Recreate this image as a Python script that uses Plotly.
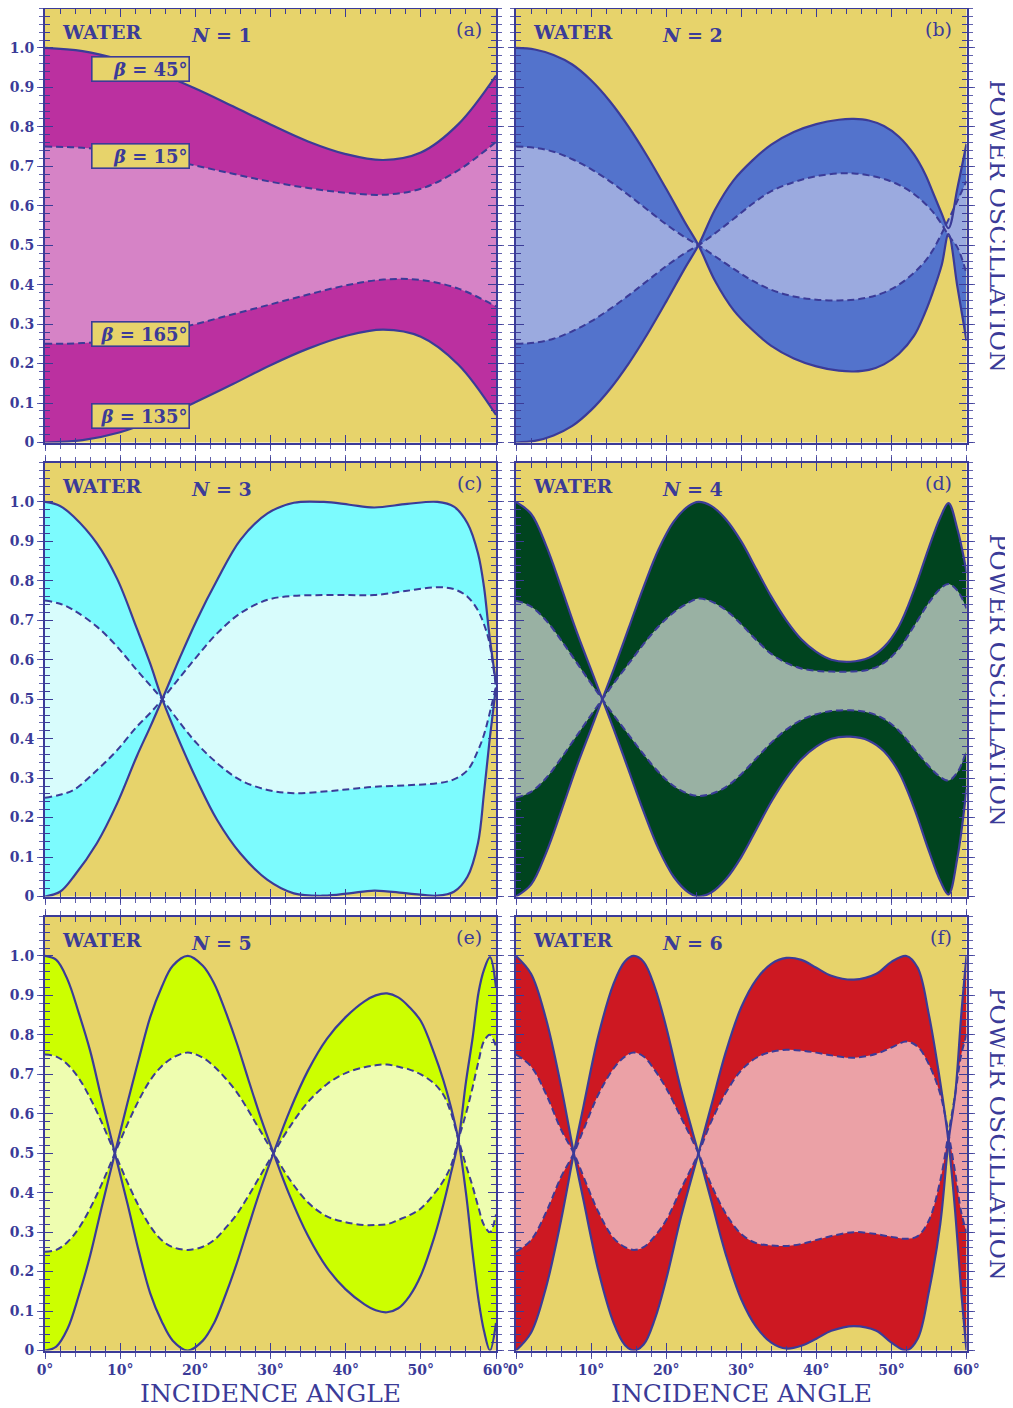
import plotly.graph_objects as go

# ---------------- data ----------------
# Panel (a)  N = 1
a_x = [0, 5, 10, 15, 20, 25, 30, 35, 40, 45, 50, 55, 60]
a_s45 = [1.0, 0.992, 0.97, 0.937, 0.897, 0.852, 0.806, 0.763, 0.731, 0.716, 0.735, 0.807, 0.93]
a_s135 = [0.0, 0.006, 0.026, 0.06, 0.102, 0.148, 0.196, 0.238, 0.27, 0.286, 0.268, 0.197, 0.07]
a_d15 = [0.75, 0.747, 0.738, 0.722, 0.702, 0.681, 0.661, 0.645, 0.633, 0.628, 0.643, 0.69, 0.762]
a_d165 = [0.25, 0.252, 0.261, 0.278, 0.3, 0.325, 0.35, 0.375, 0.398, 0.413, 0.412, 0.39, 0.345]

# Panel (b)  N = 2
b_x = [0, 2.5, 5, 7.5, 10, 12.5, 15, 17.5, 20, 22.5, 24.3, 26.5, 29, 31.5, 34, 37, 40, 43, 45, 47, 49, 51, 53, 54.5, 55.5, 56.7, 57.6, 58.8, 60]
b_s45 = [1.0, 0.996, 0.982, 0.958, 0.918, 0.865, 0.8, 0.725, 0.643, 0.558, 0.5, 0.41, 0.335, 0.285, 0.245, 0.213, 0.193, 0.182, 0.18, 0.184, 0.198, 0.225, 0.27, 0.33, 0.38, 0.45, 0.528, 0.393, 0.258]
b_s135 = [0.0, 0.004, 0.018, 0.042, 0.082, 0.135, 0.2, 0.275, 0.357, 0.442, 0.5, 0.59, 0.665, 0.715, 0.755, 0.787, 0.807, 0.818, 0.82, 0.816, 0.802, 0.775, 0.73, 0.68, 0.635, 0.58, 0.543, 0.646, 0.757]
b_d15 = [0.75, 0.747, 0.737, 0.718, 0.693, 0.662, 0.627, 0.59, 0.553, 0.52, 0.5, 0.472, 0.44, 0.41, 0.387, 0.37, 0.362, 0.36, 0.362, 0.368, 0.38, 0.4, 0.43, 0.46, 0.487, 0.53, 0.565, 0.613, 0.663]
b_d165 = [0.25, 0.253, 0.263, 0.282, 0.307, 0.338, 0.373, 0.41, 0.447, 0.48, 0.5, 0.53, 0.567, 0.605, 0.637, 0.66, 0.675, 0.682, 0.682, 0.677, 0.668, 0.653, 0.63, 0.605, 0.585, 0.553, 0.525, 0.494, 0.428]

# Panel (c)  N = 3
c_x = [0, 2, 3.8, 6.9, 9.6, 12.2, 14, 15.6, 18, 20.2, 22.9, 26, 29.6, 33.1, 37.1, 40.5, 43.8, 48.2, 52.2, 54.4, 56.2, 57.6, 58.4, 59.1, 60]
c_s45 = [1.0, 0.99, 0.963, 0.895, 0.805, 0.68, 0.59, 0.5, 0.388, 0.295, 0.194, 0.109, 0.042, 0.008, 0.002, 0.008, 0.015, 0.008, 0.002, 0.012, 0.05, 0.135, 0.262, 0.388, 0.53]
c_s135 = [0.0, 0.012, 0.05, 0.135, 0.236, 0.355, 0.43, 0.5, 0.608, 0.701, 0.802, 0.904, 0.971, 0.998, 1.0, 0.993, 0.986, 0.995, 1.0, 0.988, 0.946, 0.87, 0.785, 0.666, 0.54]
c_d15 = [0.75, 0.742, 0.726, 0.684, 0.633, 0.574, 0.535, 0.5, 0.439, 0.388, 0.338, 0.295, 0.27, 0.262, 0.266, 0.272, 0.278, 0.282, 0.287, 0.297, 0.32, 0.37, 0.41, 0.46, 0.532]
c_d165 = [0.25, 0.258, 0.27, 0.32, 0.371, 0.43, 0.465, 0.5, 0.557, 0.608, 0.667, 0.718, 0.752, 0.762, 0.764, 0.764, 0.764, 0.775, 0.784, 0.779, 0.76, 0.725, 0.69, 0.645, 0.53]

# Panel (d)  N = 4
d_x = [0, 2, 4, 6, 8, 10, 11.5, 13, 15, 17, 19, 21, 23, 24.3, 26, 28, 30, 32, 34, 36, 38, 40, 42, 44.5, 47, 49, 51, 53, 55, 56.5, 57.6, 58.8, 60]
d_s45 = [1.0, 0.97, 0.89, 0.785, 0.675, 0.575, 0.5, 0.425, 0.32, 0.215, 0.12, 0.05, 0.01, 0.0, 0.01, 0.045, 0.1, 0.17, 0.24, 0.3, 0.348, 0.38, 0.4, 0.405, 0.395, 0.368, 0.315, 0.225, 0.115, 0.04, 0.005, 0.1, 0.273]
d_s135 = [0.0, 0.03, 0.11, 0.215, 0.325, 0.425, 0.5, 0.575, 0.68, 0.785, 0.88, 0.95, 0.99, 1.0, 0.99, 0.955, 0.9, 0.83, 0.76, 0.7, 0.652, 0.62, 0.6, 0.595, 0.605, 0.632, 0.685, 0.775, 0.885, 0.96, 0.997, 0.93, 0.823]
d_d15 = [0.75, 0.735, 0.7, 0.65, 0.595, 0.54, 0.5, 0.46, 0.41, 0.36, 0.315, 0.28, 0.26, 0.255, 0.26, 0.278, 0.31, 0.35, 0.39, 0.423, 0.447, 0.462, 0.47, 0.472, 0.466, 0.45, 0.42, 0.375, 0.33, 0.303, 0.294, 0.315, 0.37]
d_d165 = [0.25, 0.265, 0.3, 0.35, 0.405, 0.46, 0.5, 0.54, 0.59, 0.64, 0.685, 0.72, 0.745, 0.755, 0.748, 0.725, 0.69, 0.65, 0.615, 0.592, 0.578, 0.572, 0.57, 0.57, 0.575, 0.592, 0.628, 0.685, 0.745, 0.78, 0.792, 0.775, 0.73]

# Panel (e)  N = 5
e_x = [0, 1.5, 3, 4.5, 6, 7.5, 9.3, 11, 12.5, 14, 15.5, 17, 19, 21, 22.5, 24, 25.5, 27, 28.7, 30.4, 32.5, 35, 37.5, 40, 42.5, 44, 45.5, 47, 48.5, 50, 51.8, 53, 54, 55, 56, 56.9, 57.7, 58.4, 59.2, 60]
e_s45 = [1.0, 0.99, 0.94, 0.855, 0.76, 0.64, 0.5, 0.37, 0.25, 0.145, 0.075, 0.025, 0.0, 0.025, 0.07, 0.14, 0.22, 0.31, 0.41, 0.5, 0.605, 0.71, 0.79, 0.845, 0.885, 0.9, 0.905, 0.895, 0.87, 0.835, 0.752, 0.685, 0.617, 0.533, 0.4, 0.246, 0.125, 0.05, 0.0, 0.07]
e_s135 = [0.0, 0.01, 0.055, 0.14, 0.24, 0.36, 0.5, 0.63, 0.74, 0.845, 0.92, 0.975, 1.0, 0.975, 0.93, 0.86, 0.78, 0.69, 0.59, 0.5, 0.395, 0.29, 0.21, 0.155, 0.117, 0.102, 0.097, 0.107, 0.138, 0.19, 0.288, 0.37, 0.449, 0.533, 0.68, 0.794, 0.91, 0.965, 0.997, 0.92]
e_d15 = [0.75, 0.745, 0.725, 0.69, 0.64, 0.58, 0.5, 0.425, 0.365, 0.315, 0.28, 0.262, 0.255, 0.263, 0.28, 0.31, 0.345, 0.39, 0.445, 0.5, 0.565, 0.63, 0.675, 0.703, 0.718, 0.723, 0.725, 0.719, 0.712, 0.7, 0.676, 0.648, 0.603, 0.535, 0.47, 0.415, 0.36, 0.318, 0.3, 0.345]
e_d165 = [0.25, 0.255, 0.275, 0.31, 0.36, 0.42, 0.5, 0.575, 0.635, 0.685, 0.72, 0.742, 0.755, 0.742, 0.72, 0.69, 0.655, 0.61, 0.555, 0.5, 0.435, 0.375, 0.34, 0.325, 0.318, 0.318, 0.32, 0.331, 0.343, 0.36, 0.398, 0.43, 0.468, 0.535, 0.6, 0.668, 0.735, 0.784, 0.8, 0.77]

# Panel (f)  N = 6
f_x = [0, 2, 4, 6, 7.7, 9, 11, 13, 14.5, 15.7, 17, 18.5, 20, 22, 24.3, 26, 28, 30, 32, 34, 36, 38, 40, 42, 45, 48, 50, 52, 53.5, 55, 56.5, 57.6, 58.5, 59.3, 60]
f_s45 = [1.0, 0.955, 0.84, 0.67, 0.5, 0.38, 0.2, 0.07, 0.014, 0.0, 0.015, 0.08, 0.18, 0.34, 0.5, 0.62, 0.76, 0.87, 0.94, 0.98, 0.995, 0.99, 0.97, 0.95, 0.94, 0.955, 0.985, 1.0, 0.97, 0.85, 0.68, 0.53, 0.35, 0.15, 0.0]
f_s135 = [0.0, 0.045, 0.16, 0.33, 0.5, 0.62, 0.8, 0.93, 0.986, 1.0, 0.985, 0.92, 0.82, 0.66, 0.5, 0.38, 0.24, 0.13, 0.06, 0.02, 0.005, 0.012, 0.03, 0.05, 0.062, 0.05, 0.02, 0.0, 0.03, 0.15, 0.32, 0.53, 0.65, 0.85, 1.0]
f_d15 = [0.75, 0.72, 0.65, 0.56, 0.5, 0.44, 0.35, 0.285, 0.262, 0.255, 0.262, 0.29, 0.33, 0.41, 0.5, 0.58, 0.655, 0.71, 0.742, 0.757, 0.762, 0.76, 0.755, 0.748, 0.742, 0.752, 0.768, 0.783, 0.77, 0.725, 0.65, 0.55, 0.45, 0.35, 0.3]
f_d165 = [0.25, 0.28, 0.35, 0.44, 0.5, 0.56, 0.65, 0.715, 0.745, 0.755, 0.745, 0.71, 0.665, 0.59, 0.5, 0.42, 0.345, 0.295, 0.272, 0.266, 0.265, 0.27, 0.28, 0.29, 0.3, 0.295, 0.288, 0.283, 0.29, 0.33, 0.43, 0.55, 0.65, 0.75, 0.8]

panel_letters = ["(a)", "(b)", "(c)", "(d)", "(e)", "(f)"]
panel_N = [1, 2, 3, 4, 5, 6]
outer_colors = ["#BB30A0", "#5373CC", "#7CFBFE", "#00441F", "#CCFF00", "#CD1822"]
inner_colors = ["#D683C6", "#9BAADF", "#D8FCFC", "#99B1A3", "#EEFDB0", "#EBA1A6"]

x_tick_vals = [0, 10, 20, 30, 40, 50, 60]
x_tick_text = ["0°", "10°", "20°", "30°", "40°", "50°", "60°"]
y_tick_vals = [0, 0.1, 0.2, 0.3, 0.4, 0.5, 0.6, 0.7, 0.8, 0.9, 1.0]
y_tick_text = ["0", "0.1", "0.2", "0.3", "0.4", "0.5", "0.6", "0.7", "0.8", "0.9", "1.0"]

beta_labels = ["<i>β</i> = 45°", "<i>β</i> = 15°", "<i>β</i> = 165°", "<i>β</i> = 135°"]
beta_label_y = [0.861, 0.661, 0.251, 0.060]

panels = [
    (a_x, a_s45, a_s135, a_d15, a_d165),
    (b_x, b_s45, b_s135, b_d15, b_d165),
    (c_x, c_s45, c_s135, c_d15, c_d165),
    (d_x, d_s45, d_s135, d_d15, d_d165),
    (e_x, e_s45, e_s135, e_d15, e_d165),
    (f_x, f_s45, f_s135, f_d15, f_d165),
]

# ---------------- styling ----------------
OFF = 8                      # default page margin of the html body
W, H = 1013 - OFF, 1408 - OFF
INK = "#3B3B98"
TICK = "rgba(59,59,152,0.8)"
GOLD = "#E7D36B"
FONT = "DejaVu Serif"

# panel frames in window pixels
col_px = [(45, 496), (516, 966.5)]
row_px = [(8.5, 442.5), (462.5, 896.5), (916.5, 1350.5)]


def px_x(v):
    return (v - OFF) / W


def px_y(v):
    return 1 - (v - OFF) / H


def sfx(k):
    return "" if k == 1 else str(k)


fig = go.Figure()
layout = dict(
    width=W, height=H,
    margin=dict(l=0, r=0, t=0, b=0, autoexpand=False),
    paper_bgcolor="white", plot_bgcolor=GOLD,
    showlegend=False,
    font=dict(family=FONT, color=INK),
)

annotations = []

for p, (xs, s1, s2, d1, d2) in enumerate(panels):
    r, c = divmod(p, 2)
    n = p + 1
    xa, ya = "x" + sfx(n), "y" + sfx(n)
    xo, yo = "x" + str(n + 6), "y" + str(n + 6)

    common = dict(xaxis=xa, yaxis=ya, hoverinfo="skip", line_shape="spline")
    # filled bands
    fig.add_trace(go.Scatter(x=xs, y=s1, mode="lines", line=dict(width=0), **common))
    fig.add_trace(go.Scatter(x=xs, y=s2, mode="lines", line=dict(width=0),
                             fill="tonexty", fillcolor=outer_colors[p], **common))
    fig.add_trace(go.Scatter(x=xs, y=d1, mode="lines", line=dict(width=0), **common))
    fig.add_trace(go.Scatter(x=xs, y=d2, mode="lines", line=dict(width=0),
                             fill="tonexty", fillcolor=inner_colors[p], **common))
    # curves
    for ys in (d1, d2):
        fig.add_trace(go.Scatter(x=xs, y=ys, mode="lines",
                                 line=dict(color=INK, width=2, dash="7px,4px"), **common))
    for ys in (s1, s2):
        fig.add_trace(go.Scatter(x=xs, y=ys, mode="lines",
                                 line=dict(color=INK, width=2.2), **common))

    x0, x1 = col_px[c]
    t0, t1 = row_px[r]
    xdom = [px_x(x0), px_x(x1)]
    ydom = [px_y(t1), px_y(t0)]

    layout["xaxis" + sfx(n)] = dict(
        domain=xdom, anchor=ya, range=[0, 60], showgrid=False, zeroline=False,
        showline=True, linecolor=INK, linewidth=2, mirror="ticks", automargin=False,
        ticks="outside", ticklen=6, tickwidth=1.3, tickcolor=TICK,
        tickvals=x_tick_vals, ticktext=x_tick_text, showticklabels=(r == 2),
        tickfont=dict(family=FONT, size=14, color=INK, weight="bold"),
        minor=dict(ticks="outside", dtick=2, ticklen=4, tickwidth=1.1, tickcolor=TICK),
        fixedrange=True,
    )
    layout["yaxis" + sfx(n)] = dict(
        domain=ydom, anchor=xa, range=[0, 1.1], showgrid=False, zeroline=False,
        showline=True, linecolor=INK, linewidth=2, mirror="ticks", automargin=False,
        ticks="outside", ticklen=6, tickwidth=1.3, tickcolor=TICK,
        tickvals=y_tick_vals, ticktext=y_tick_text, showticklabels=(c == 0),
        tickfont=dict(family=FONT, size=14, color=INK, weight="bold"),
        minor=dict(ticks="outside", dtick=0.02, ticklen=4, tickwidth=1.1, tickcolor=TICK),
        fixedrange=True,
    )
    # overlay axes giving the inward half of the crossing ticks
    layout["xaxis" + str(n + 6)] = dict(
        overlaying=xa, anchor=yo, range=[0, 60], showgrid=False, zeroline=False,
        showline=False, mirror="ticks", ticks="inside", ticklen=8, tickwidth=1.3,
        tickcolor=INK, tickvals=x_tick_vals, showticklabels=False, automargin=False,
        minor=dict(ticks="inside", dtick=2, ticklen=5, tickwidth=1.1, tickcolor=INK),
        fixedrange=True,
    )
    layout["yaxis" + str(n + 6)] = dict(
        overlaying=ya, anchor=xo, range=[0, 1.1], showgrid=False, zeroline=False,
        showline=False, mirror="ticks", ticks="inside", ticklen=8, tickwidth=1.3,
        tickcolor=INK, tickvals=y_tick_vals, showticklabels=False, automargin=False,
        minor=dict(ticks="inside", dtick=0.02, ticklen=5, tickwidth=1.1, tickcolor=INK),
        fixedrange=True,
    )
    fig.add_trace(go.Scatter(x=[30], y=[0.5], xaxis=xo, yaxis=yo, mode="markers",
                             marker=dict(opacity=0, size=1), hoverinfo="skip"))

    xd, yd = xa + " domain", ya + " domain"
    annotations.append(dict(text="<b>WATER</b>", xref=xd, yref=yd, x=0.033, y=0.945,
                            xanchor="left", yanchor="middle", showarrow=False,
                            font=dict(family=FONT, size=19, color=INK)))
    annotations.append(dict(text=f"<b><i>N</i> = {panel_N[p]}</b>", xref=xd, yref=yd,
                            x=0.32, y=0.94, xanchor="left", yanchor="middle",
                            showarrow=False, font=dict(family=FONT, size=19, color=INK)))
    annotations.append(dict(text=panel_letters[p], xref=xd, yref=yd, x=0.973, y=0.952,
                            xanchor="right", yanchor="middle", showarrow=False,
                            font=dict(family=FONT, size=19, color=INK)))
    if p == 0:
        for lab, yy in zip(beta_labels, beta_label_y):
            annotations.append(dict(text=f"<b>{lab}</b>", xref=xd, yref=yd,
                                    x=0.102, y=yy, xanchor="left", yanchor="middle",
                                    showarrow=False, align="right", width=94, height=21,
                                    bgcolor=GOLD, bordercolor=INK, borderwidth=1.6,
                                    borderpad=1,
                                    font=dict(family=FONT, size=18, color=INK)))

for c in range(2):
    x0, x1 = col_px[c]
    annotations.append(dict(text="INCIDENCE ANGLE", xref="paper", yref="paper",
                            x=px_x((x0 + x1) / 2), y=px_y(1393), xanchor="center",
                            yanchor="middle", height=24, borderpad=0, showarrow=False,
                            font=dict(family=FONT, size=25, color=INK)))
for r in range(3):
    t0, t1 = row_px[r]
    annotations.append(dict(text="POWER OSCILLATION", xref="paper", yref="paper",
                            x=px_x(998), y=px_y((t0 + t1) / 2), xanchor="center",
                            yanchor="middle", textangle=90, showarrow=False,
                            font=dict(family=FONT, size=25, color=INK)))

layout["annotations"] = annotations
fig.update_layout(**layout)
fig.write_html("out.html")
